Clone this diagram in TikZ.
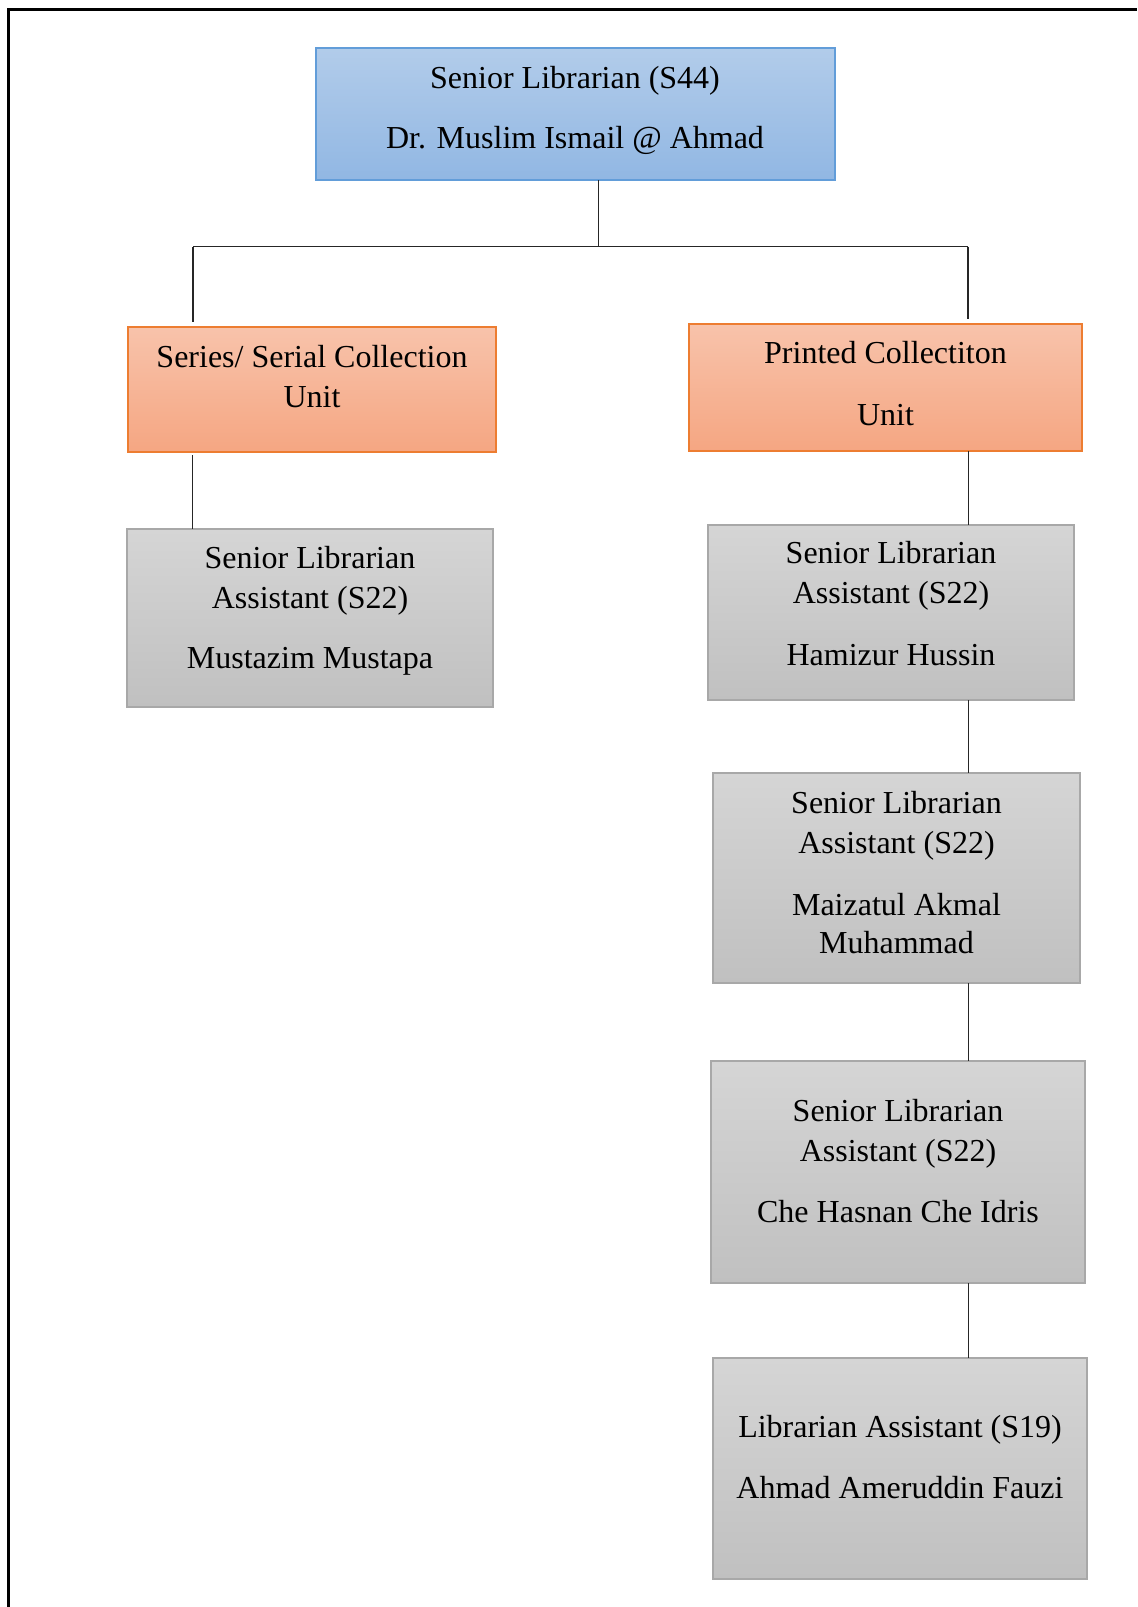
\documentclass[tikz,border=0pt]{standalone}
\usepackage{fontspec}
\setmainfont{Liberation Serif}
\definecolor{blueTop}{RGB}{178,204,234}
\definecolor{blueBot}{RGB}{145,183,227}
\definecolor{blueLine}{RGB}{98,157,217}
\definecolor{orangeTop}{RGB}{248,195,171}
\definecolor{orangeBot}{RGB}{245,166,130}
\definecolor{orangeLine}{RGB}{237,125,49}
\definecolor{grayTop}{RGB}{213,213,213}
\definecolor{grayBot}{RGB}{192,192,192}
\definecolor{grayLine}{RGB}{168,168,168}
\begin{document}
\begin{tikzpicture}[x=0.5pt,y=-0.5pt,
  box/.style={rectangle, outer sep=0pt, inner sep=0pt, line width=0.7pt, anchor=north west},
  bluebox/.style={box, draw=blueLine, top color=blueTop, bottom color=blueBot},
  orangebox/.style={box, draw=orangeLine, top color=orangeTop, bottom color=orangeBot},
  graybox/.style={box, draw=grayLine, top color=grayTop, bottom color=grayBot},
  txt/.style={anchor=base, inner sep=0pt, font=\fontsize{16pt}{20pt}\selectfont},
  link/.style={line width=0.6pt, draw=black!85}]
\useasboundingbox (0,0) rectangle (1137,1607);

% page frame (left and top edges)
\draw[line width=1.3pt] (8.5,1607) -- (8.5,9.5) -- (1137,9.5);

% boxes
\node[bluebox, minimum width=259.5pt, minimum height=66pt] (top) at (316,48) {};
\node[orangebox, minimum width=184pt, minimum height=62.5pt] (ser) at (128,327) {};
\node[orangebox, minimum width=196.5pt, minimum height=63.5pt] (prt) at (689,324) {};
\node[graybox, minimum width=183pt, minimum height=89pt] (sg1) at (127,529) {};
\node[graybox, minimum width=183pt, minimum height=87.5pt] (pg1) at (708,525) {};
\node[graybox, minimum width=183.5pt, minimum height=105pt] (pg2) at (713,773) {};
\node[graybox, minimum width=187pt, minimum height=111pt] (pg3) at (711,1061) {};
\node[graybox, minimum width=187pt, minimum height=110.5pt] (pg4) at (713,1358) {};

% texts
\node[txt] (top-a) at (575,88) {Senior Librarian (S44)};
\node[txt] (top-b) at (575,148) {Dr. Muslim Ismail @ Ahmad};

\node[txt] (ser-a) at (312,367) {Series/ Serial Collection};
\node[txt] (ser-b) at (312,407) {Unit};

\node[txt] (prt-a) at (885.5,363) {Printed Collectiton};
\node[txt] (prt-b) at (885.5,425) {Unit};

\node[txt] (sg1-a) at (310,568) {Senior Librarian};
\node[txt] (sg1-b) at (310,608) {Assistant (S22)};
\node[txt] (sg1-c) at (310,668) {Mustazim Mustapa};

\node[txt] (pg1-a) at (891,563) {Senior Librarian};
\node[txt] (pg1-b) at (891,603) {Assistant (S22)};
\node[txt] (pg1-c) at (891,665) {Hamizur Hussin};

\node[txt] (pg2-a) at (896.5,813) {Senior Librarian};
\node[txt] (pg2-b) at (896.5,853) {Assistant (S22)};
\node[txt] (pg2-c) at (896.5,915) {Maizatul Akmal};
\node[txt] (pg2-d) at (896.5,953) {Muhammad};

\node[txt] (pg3-a) at (898,1121) {Senior Librarian};
\node[txt] (pg3-b) at (898,1161) {Assistant (S22)};
\node[txt] (pg3-c) at (898,1222) {Che Hasnan Che Idris};

\node[txt] (pg4-a) at (900,1437) {Librarian Assistant (S19)};
\node[txt] (pg4-b) at (900,1498) {Ahmad Ameruddin Fauzi};

% connector layout
\coordinate (busM) at (598.5,246.5);
\coordinate (busL) at (193,246.5);
\coordinate (busR) at (968,246.5);
\coordinate (colL) at (192.5,0);
\coordinate (colR) at (968.5,0);

\draw[link] (top.south -| busM) -- (busM);
\draw[link] (busL) -- (busR);
\draw[link, shorten >=2.5pt] (busL) -- (ser.north -| busL);
\draw[link, shorten >=2.5pt] (busR) -- (prt.north -| busR);
\draw[link, shorten <=1.5pt] (ser.south -| colL) -- (sg1.north -| colL);
\draw[link] (prt.south -| colR) -- (pg1.north -| colR);
\draw[link] (pg1.south -| colR) -- (pg2.north -| colR);
\draw[link] (pg2.south -| colR) -- (pg3.north -| colR);
\draw[link] (pg3.south -| colR) -- (pg4.north -| colR);
\end{tikzpicture}
\end{document}
